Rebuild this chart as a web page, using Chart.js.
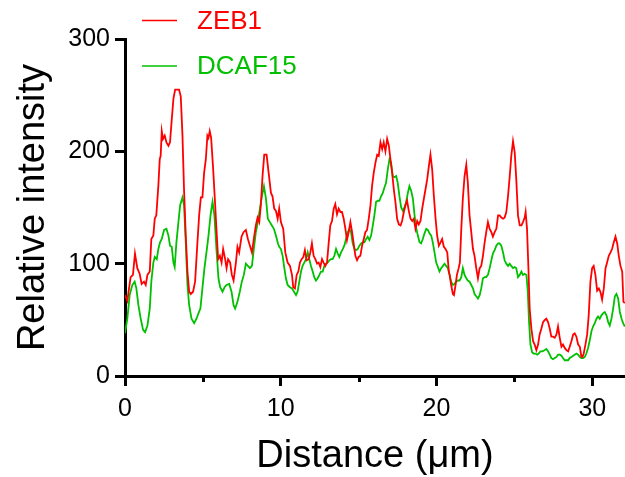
<!DOCTYPE html>
<html>
<head>
<meta charset="utf-8">
<title>Line profile</title>
<script src="https://cdn.jsdelivr.net/npm/chart.js@4.4.1/dist/chart.umd.min.js"></script>
<style>
  html, body { margin: 0; padding: 0; background: #fff; }
  #wrap { width: 625px; height: 477px; }
</style>
</head>
<body>
<div id="wrap"><canvas id="profileChart" width="625" height="477"></canvas></div>
<script>
// distance along the line (µm) and intensity
const zebDistance = [
  0,0.15,0.36,0.51,0.64,0.79,0.94,1.07,1.22,1.33,1.44,1.59,1.69,1.82,1.91,2.01,2.14,2.23,2.29,2.36,
  2.44,2.55,2.66,2.79,2.89,3.00,3.11,3.22,3.47,3.58,3.69,3.79,3.90,4.01,4.12,4.22,4.37,4.50,4.65,4.76,
  4.87,4.97,5.08,5.19,5.29,5.36,5.44,5.53,5.66,5.79,5.87,5.98,6.09,6.20,6.30,6.43,6.52,6.62,6.75,6.86,
  6.97,7.12,7.22,7.33,7.48,7.61,7.76,7.89,8.02,8.15,8.27,8.40,8.51,8.62,8.72,8.83,8.94,9.09,9.22,9.37,
  9.47,9.58,9.69,9.80,
  9.90,10.01,10.16,10.29,10.44,10.59,10.72,10.80,10.91,11.02,11.13,11.23,11.34,11.45,11.55,11.66,11.79,
  11.90,12.00,12.11,12.22,12.33,12.43,12.54,12.65,12.75,12.86,12.97,13.08,13.18,13.29,13.40,13.50,13.61,
  13.72,13.83,13.93,14.04,14.15,14.25,14.36,14.47,14.58,14.68,14.79,14.90,15.00,15.11,15.22,15.33,15.43,
  15.54,15.65,15.76,15.86,15.97,16.08,16.19,16.29,16.40,16.51,16.61,16.72,16.83,16.94,17.04,17.15,17.26,
  17.36,17.47,17.58,17.69,17.79,17.90,18.01,18.11,18.22,18.33,18.44,18.54,18.65,18.76,18.86,18.97,19.08,
  19.19,19.29,19.40,19.51,19.61,19.72,19.83,19.94,20.04,20.15,20.26,20.36,20.47,20.58,20.69,20.79,
  20.84,20.94,21.05,21.12,21.22,21.31,21.42,21.50,21.59,21.69,21.80,21.91,22.01,22.12,22.23,22.34,22.44,
  22.55,22.66,22.77,22.87,22.98,23.09,23.19,23.30,23.41,23.52,23.62,23.73,23.84,23.95,24.05,24.16,24.27,
  24.37,24.48,24.59,24.70,24.80,24.91,25.02,25.12,25.23,25.34,25.45,25.55,25.66,25.72,25.81,25.90,25.98,
  26.09,26.20,26.30,26.41,26.52,26.62,26.73,26.84,26.95,27.05,27.16,27.27,27.37,27.48,27.59,27.70,27.80,
  27.91,28.02,28.12,28.23,28.34,28.45,28.55,28.66,28.77,28.87,28.98,29.09,29.20,29.30,29.37,29.45,29.56,
  29.67,29.77,29.88,29.99,30.09,30.20,30.31,30.42,30.52,30.63,30.74,30.85,30.95,31.06,31.17,31.27,31.38,
  31.49,31.60,31.70,31.81,31.92,32.00,32.09
];
const zebIntensity = [
  72,67,88,90,109,96,91,82,84,81,90,93,122,125,140,143,169,193,196,218,
  211,214,208,205,208,228,247,255,255,249,214,166,125,93,75,73,75,84,119,143,
  159,159,181,193,214,212,218,212,184,152,131,104,107,101,113,104,96,104,101,90,
  85,101,115,110,124,128,130,122,116,110,122,134,141,137,152,178,197,197,181,163,
  160,149,147,140,
  149,137,131,110,101,98,90,79,78,90,93,101,104,106,112,103,104,
  110,118,107,104,100,101,97,104,101,98,101,119,134,138,149,153,144,
  149,146,146,140,131,121,128,137,128,118,107,103,106,107,116,122,128,
  130,140,152,169,181,190,197,196,208,202,208,200,211,205,193,181,166,
  155,140,135,134,138,146,152,156,147,140,138,140,131,138,135,138,149,
  158,166,175,187,197,184,160,140,125,116,119,122,115,113,110,93,
  90,81,73,72,81,90,96,101,131,158,178,188,172,143,128,113,107,
  96,87,96,98,107,119,128,137,131,128,124,128,131,143,143,141,140,
  141,146,160,178,196,209,199,175,143,134,134,137,141,146,131,96,60,
  42,31,28,23,28,37,42,48,50,51,48,42,35,35,34,37,44,
  34,26,28,25,23,22,26,31,37,38,35,28,26,17,17,20,28,
  37,54,84,96,98,90,76,78,75,68,78,96,101,107,110,113,119,
  124,118,107,98,93,66,65
];

const dcafDistance = [
  0,0.15,0.30,0.47,0.62,0.73,0.86,1.01,1.16,1.29,1.44,1.59,1.69,1.82,1.91,2.04,2.14,2.25,2.36,2.51,
  2.66,2.79,2.89,3.00,3.11,3.19,3.30,3.43,3.54,3.69,3.79,3.90,4.01,4.12,4.27,4.44,4.59,4.72,4.84,4.97,
  5.10,5.23,5.36,5.49,5.62,5.74,5.87,6.00,6.11,6.26,6.39,6.52,6.69,6.84,6.97,7.07,7.22,7.37,7.50,7.63,
  7.76,7.89,8.02,8.15,8.27,8.40,8.53,8.66,8.79,8.92,9.05,9.17,9.30,9.43,9.56,9.69,9.82,
  9.90,10.01,10.12,10.23,10.33,10.44,10.59,10.72,10.85,
  10.98,11.08,11.19,11.30,11.40,11.51,11.62,11.73,11.83,11.94,12.05,12.15,12.26,12.37,12.48,12.58,12.69,
  12.80,12.90,13.01,13.12,13.23,13.33,13.44,13.55,13.66,13.76,13.87,13.98,14.08,14.19,14.30,14.41,14.51,
  14.62,14.73,14.83,14.94,15.05,15.16,15.26,15.37,15.48,15.58,15.69,15.80,15.91,16.01,16.12,16.23,16.33,
  16.44,16.55,16.66,16.76,16.87,16.98,17.08,17.19,17.30,17.41,17.51,17.62,17.73,17.84,17.94,18.05,18.16,
  18.26,18.37,18.48,18.59,18.69,18.80,18.91,19.01,19.12,19.23,19.34,19.44,19.55,19.66,19.76,19.87,19.98,
  20.09,20.19,20.30,20.41,20.52,20.62,20.73,20.84,
  20.94,21.05,21.16,21.26,21.37,21.48,21.59,21.69,21.80,21.91,22.01,22.12,22.23,22.34,22.44,22.55,22.66,
  22.77,22.87,22.98,23.09,23.19,23.30,23.41,23.52,23.62,23.73,23.84,23.95,24.05,24.16,24.27,24.37,24.48,
  24.59,24.70,24.80,24.91,25.02,25.12,25.23,25.34,25.45,25.55,25.66,25.77,
  25.86,25.94,26.03,26.14,26.24,26.35,26.46,26.56,26.67,26.80,26.93,27.05,27.16,27.27,27.37,27.48,27.59,
  27.70,27.80,27.91,28.02,28.12,28.23,28.34,28.45,28.55,28.66,28.77,28.87,28.98,29.09,29.20,29.30,29.41,
  29.52,29.62,29.73,29.84,29.95,30.05,30.16,30.27,30.37,30.48,30.59,30.70,30.80,30.91,31.02,31.12,31.23,
  31.34,31.45,31.55,31.66,31.77,31.88,31.98,32.09
];
const dcafIntensity = [
  38,51,72,81,84,78,63,51,41,39,45,60,84,101,106,104,113,119,122,130,
  131,125,116,115,101,97,119,137,152,159,152,119,81,63,51,47,51,56,60,78,
  96,110,125,143,155,143,113,87,79,75,79,81,82,75,63,60,66,75,84,90,
  100,98,96,98,113,128,137,149,160,169,158,140,137,134,131,125,118,
  115,113,107,96,87,81,79,78,75,
  72,75,84,93,98,101,104,110,104,98,93,88,85,87,90,93,93,
  98,100,101,103,104,104,107,113,109,106,110,113,116,122,128,131,128,
  118,113,112,113,116,118,119,119,122,124,121,125,134,143,155,156,156,
  160,163,168,172,184,193,190,178,177,178,172,160,150,147,150,155,163,
  169,165,158,143,132,125,119,118,122,127,131,130,127,125,119,110,101,
  97,93,96,98,100,98,96,90,
  84,81,82,84,85,85,88,96,90,87,85,84,81,78,73,71,69,
  72,78,87,88,88,90,96,103,109,112,116,118,118,116,110,103,100,
  98,100,98,96,97,96,88,90,93,90,91,90,
  75,48,28,21,20,20,19,20,22,22,23,24,22,19,16,15,16,
  17,19,19,18,16,14,14,14,16,17,18,19,20,19,17,16,16,
  17,20,25,32,40,44,47,51,53,51,54,56,57,54,48,45,51,
  60,71,73,69,57,51,47,44
];

const seriesNames = ['ZEB1', 'DCAF15'];
const xTicks = [0, 10, 20, 30];
const xMinorTicks = [5, 15, 25];
const yTicks = [0, 100, 200, 300];

const FONT = 'Arial, "Liberation Sans", sans-serif';

function toPoints(xs, ys) {
    const n = Math.min(xs.length, ys.length);
    const pts = [];
    for (let i = 0; i < n; i++) pts.push({ x: xs[i], y: ys[i] });
    return pts;
}

// short ticks at 5, 15, 25 like the original axis
const minorTicks = {
    id: 'minorTicks',
    afterDraw(chart) {
        const { ctx, chartArea } = chart;
        const xScale = chart.scales.x;
        ctx.save();
        ctx.strokeStyle = '#000';
        ctx.lineWidth = 3;
        xMinorTicks.forEach(v => {
            const px = Math.round(xScale.getPixelForValue(v)) + 0.5;
            ctx.beginPath();
            ctx.moveTo(px, chartArea.bottom);
            ctx.lineTo(px, chartArea.bottom + 6);
            ctx.stroke();
        });
        ctx.restore();
    }
};

// legend stacked at the top left, line sample + coloured label
const lineLegend = {
    id: 'lineLegend',
    afterDraw(chart) {
        const ctx = chart.ctx;
        const rowY = [20.5, 66];
        chart.data.datasets.forEach((ds, i) => {
            const y = rowY[i];
            ctx.save();
            ctx.strokeStyle = ds.borderColor;
            ctx.lineWidth = 1.5;
            ctx.beginPath();
            ctx.moveTo(142, y);
            ctx.lineTo(177, y);
            ctx.stroke();
            ctx.fillStyle = ds.borderColor;
            ctx.font = '26px ' + FONT;
            ctx.textBaseline = 'middle';
            ctx.fillText(ds.label, 197, y + 1);
            ctx.restore();
        });
    }
};

const ctx = document.getElementById('profileChart').getContext('2d');

new Chart(ctx, {
    type: 'line',
    data: {
        datasets: [
            {
                label: seriesNames[0],
                data: toPoints(zebDistance, zebIntensity),
                borderColor: '#ff0000',
                borderWidth: 1.8,
                pointRadius: 0,
                tension: 0,
                fill: false
            },
            {
                label: seriesNames[1],
                data: toPoints(dcafDistance, dcafIntensity),
                borderColor: '#00c000',
                borderWidth: 1.8,
                pointRadius: 0,
                tension: 0,
                fill: false
            }
        ]
    },
    options: {
        responsive: false,
        animation: false,
        devicePixelRatio: 1,
        layout: { padding: { top: 39, left: 0, right: 0, bottom: 0 } },
        plugins: {
            legend: { display: false },
            tooltip: { enabled: false }
        },
        scales: {
            x: {
                type: 'linear',
                min: 0,
                max: 32.1,
                afterBuildTicks: scale => { scale.ticks = xTicks.map(v => ({ value: v })); },
                afterFit: scale => { scale.height = 101; },
                border: { display: true, color: '#000', width: 3 },
                grid: {
                    drawOnChartArea: false,
                    drawTicks: true,
                    tickLength: 10,
                    tickWidth: 3,
                    tickColor: '#000'
                },
                ticks: {
                    color: '#000',
                    padding: 8,
                    maxRotation: 0,
                    font: { family: FONT, size: 25 }
                },
                title: {
                    display: true,
                    text: 'Distance (μm)',
                    color: '#000',
                    padding: { top: 0, bottom: 1 },
                    font: { family: FONT, size: 38, lineHeight: 1 }
                }
            },
            y: {
                min: 0,
                max: 300,
                afterBuildTicks: scale => { scale.ticks = yTicks.map(v => ({ value: v })); },
                afterFit: scale => { scale.width = 125; },
                border: { display: true, color: '#000', width: 3 },
                grid: {
                    drawOnChartArea: false,
                    drawTicks: true,
                    tickLength: 10,
                    tickWidth: 3,
                    tickColor: '#000'
                },
                ticks: {
                    color: '#000',
                    padding: 5,
                    font: { family: FONT, size: 25 }
                },
                title: {
                    display: true,
                    text: 'Relative intensity',
                    color: '#000',
                    padding: { top: 15, bottom: 0 },
                    font: { family: FONT, size: 38, lineHeight: 1 }
                }
            }
        }
    },
    plugins: [minorTicks, lineLegend]
});
</script>
</body>
</html>
